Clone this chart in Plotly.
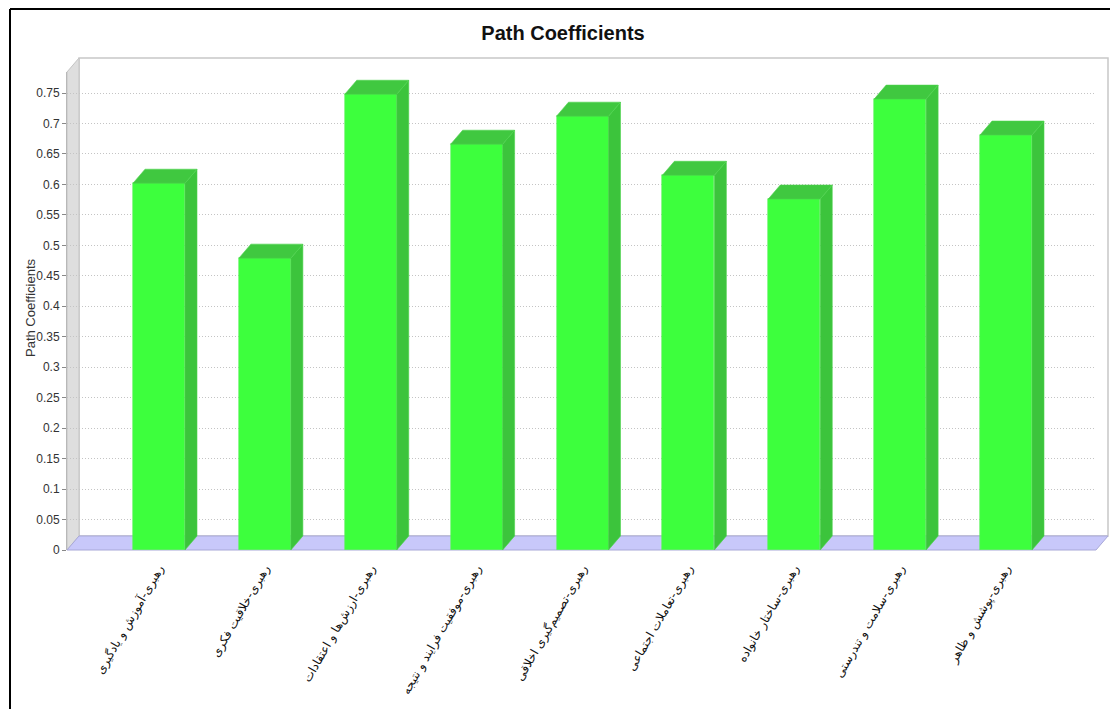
import plotly.graph_objects as go

# ---- data ----
categories = [
    "رهبری-آموزش و یادگیری",
    "رهبری-خلاقیت فکری",
    "رهبری-ارزش‌ها و اعتقادات",
    "رهبری-موفقیت فرایند و نتیجه",
    "رهبری-تصمیم‌گیری اخلاقی",
    "رهبری-تعاملات اجتماعی",
    "رهبری-ساختار خانواده",
    "رهبری-سلامت و تندرستی",
    "رهبری-پوشش و ظاهر",
]
path_coefficients = [0.602, 0.479, 0.748, 0.666, 0.712, 0.615, 0.576, 0.740, 0.681]
y_tick_values = [round(0.05 * i, 2) for i in range(16)]
y_tick_labels = ["0", "0.05", "0.1", "0.15", "0.2", "0.25", "0.3", "0.35", "0.4",
                 "0.45", "0.5", "0.55", "0.6", "0.65", "0.7", "0.75"]

# ---- geometry of the pseudo-3D plot box (pixels) ----
W, H = 1110, 709
L, R, T, B = 67, 1096, 72, 550      # front face of the plot box
DX, DY = 12, 14                      # depth offset of the back wall
X_RANGE = [-0.869, 8.850]
Y_RANGE = [0.0, 0.7845]
BAR_W = 0.491

PW = R + DX - L                      # paper width
PH = B - (T - DY)                    # paper height
ux = (R - L) / (X_RANGE[1] - X_RANGE[0])   # px per x unit
uy = (B - T) / (Y_RANGE[1] - Y_RANGE[0])   # px per y unit
ddx = DX / ux                        # depth in data units
ddy = DY / uy


def paper(px, py):
    return (px - L) / PW, (B - py) / PH


def path(points):
    pts = [paper(*p) for p in points]
    return "M " + " L ".join(f"{x:.5f},{y:.5f}" for x, y in pts) + " Z"


idx = list(range(len(categories)))

fig = go.Figure()

# back-wall axes: carries the dotted grid, shifted by the depth offset
fig.add_trace(go.Scatter(x=[0], y=[0], xaxis="x2", yaxis="y2",
                         mode="markers", marker=dict(opacity=0),
                         hoverinfo="skip", showlegend=False))

# front faces of the bars
fig.add_trace(go.Bar(x=idx, y=path_coefficients, width=BAR_W,
                     marker=dict(color="#3dff3d", line=dict(width=0.6, color="#5cf05c")),
                     showlegend=False, hoverinfo="skip"))

# side and top faces of the bars
for i, v in zip(idx, path_coefficients):
    xl, xr = i - BAR_W / 2, i + BAR_W / 2
    fig.add_trace(go.Scatter(
        x=[xr, xr, xr + ddx, xr + ddx, xr], y=[0, v, v + ddy, ddy, 0],
        mode="lines", fill="toself", fillcolor="#3cc43c",
        line=dict(width=0.6, color="#4bd44b"), showlegend=False, hoverinfo="skip"))
    fig.add_trace(go.Scatter(
        x=[xl, xr, xr + ddx, xl + ddx, xl], y=[v, v, v + ddy, v + ddy, v],
        mode="lines", fill="toself", fillcolor="#40c840",
        line=dict(width=0.6, color="#4bd44b"), showlegend=False, hoverinfo="skip"))

shapes = [
    # back wall outline (top and right edges)
    dict(type="path", xref="paper", yref="paper", layer="below",
         path=path([(L + DX, B - DY), (L + DX, T - DY), (R + DX, T - DY), (R + DX, B - DY)]),
         fillcolor="white", line=dict(color="#c8c8c8", width=1.5)),
    # left wall
    dict(type="path", xref="paper", yref="paper", layer="below",
         path=path([(L, B), (L, T), (L + DX, T - DY), (L + DX, B - DY)]),
         fillcolor="#dedede", line=dict(color="#c4c4c4", width=1)),
    # floor
    dict(type="path", xref="paper", yref="paper", layer="between",
         path=path([(L, B), (R, B), (R + DX, B - DY), (L + DX, B - DY)]),
         fillcolor="#c8c8fa", line=dict(color="#a8a8d8", width=1)),
    # outer frame (top and left)
    dict(type="line", xref="paper", yref="paper",
         x0=paper(10, 9)[0], y0=paper(10, 9)[1], x1=paper(W + 5, 9)[0], y1=paper(W + 5, 9)[1],
         line=dict(color="black", width=2)),
    dict(type="line", xref="paper", yref="paper",
         x0=paper(10, 9)[0], y0=paper(10, 9)[1], x1=paper(10, H + 5)[0], y1=paper(10, H + 5)[1],
         line=dict(color="black", width=2)),
]

# y-axis title placed beside the tick labels
ytitle_x, ytitle_y = paper(30, 308)
annotations = [
    dict(text="Path Coefficients", xref="paper", yref="paper", x=ytitle_x, y=ytitle_y,
         textangle=-90, showarrow=False, xanchor="center", yanchor="middle",
         font=dict(size=13, color="#333")),
]

fig.update_layout(
    width=W, height=H,
    margin=dict(l=L, r=W - (R + DX), t=T - DY, b=H - B, pad=0),
    paper_bgcolor="white", plot_bgcolor="rgba(0,0,0,0)",
    font=dict(family="Liberation Sans, Arial, sans-serif", color="#333"),
    title=dict(text="<b>Path Coefficients</b>", x=563 / W, xref="container", xanchor="center",
               y=1 - 33 / H, yref="container", yanchor="middle",
               font=dict(family="Liberation Sans, Arial, sans-serif", size=20, color="#111")),
    shapes=shapes,
    annotations=annotations,
    bargap=0,
    xaxis=dict(domain=[0, (R - L) / PW], range=X_RANGE, tickvals=idx, ticktext=categories,
               tickangle=-60, showgrid=False, zeroline=False, showline=False, ticks="",
               ticklabelstandoff=8,
               tickfont=dict(family="DejaVu Sans, Noto Sans, sans-serif", size=12, color="#111"),
               fixedrange=True),
    yaxis=dict(domain=[0, (B - T) / PH], range=Y_RANGE, tickvals=y_tick_values,
               ticktext=y_tick_labels, showgrid=False, zeroline=False,
               showline=True, linecolor="#b8b8b8", linewidth=1,
               ticks="outside", ticklen=4, tickcolor="#888",
               tickfont=dict(size=12, color="#333"),
               fixedrange=True),
    xaxis2=dict(domain=[DX / PW, 1], range=X_RANGE, anchor="y2", overlaying="x",
                visible=False, showgrid=False, fixedrange=True),
    yaxis2=dict(domain=[DY / PH, 1], range=Y_RANGE, anchor="x2", overlaying="y",
                tickvals=y_tick_values, showticklabels=False, ticks="",
                showgrid=True, gridcolor="#c4c4c4", griddash="1px,2px", gridwidth=1,
                zeroline=False, showline=False, fixedrange=True),
)

fig.write_html("out.html")
